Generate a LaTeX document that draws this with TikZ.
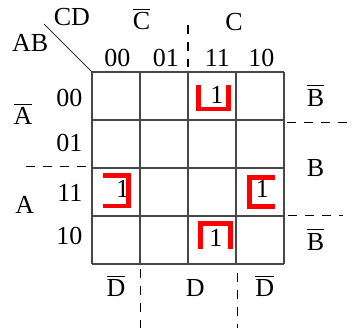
\documentclass[tikz,border=0pt]{standalone}
\usepackage{amsmath}
\usepackage{xcolor}
\usepackage{fontspec}
\setmainfont{Liberation Serif}
\usetikzlibrary{positioning}

\begin{document}
\begin{tikzpicture}[x=24pt,y=24pt,
    lbl/.style={font=\fontsize{13}{15}\selectfont, inner sep=0pt, anchor=base},
    cellline/.style={draw=black!72, line width=0.6pt},
    sepline/.style={dash pattern=on 4.5pt off 4pt, line width=0.75pt},
    grp/.style={red, line width=2.4pt}]
\useasboundingbox (-1.917,1.5) rectangle (5.417,-5.333);

% map grid
\foreach \i in {0,...,4} {
  \draw[cellline] (\i,0) -- (\i,-4);
  \draw[cellline] (0,-\i) -- (4,-\i);
}
\coordinate (corner) at (0,0);
\coordinate (diag) at (-1,1);
\draw[black!80, line width=0.5pt] (corner) -- (diag);

% variable names
\node[lbl] (cd) at (-0.42,0.96) {CD};
\node[lbl] (ab) at (-1.29,0.42) {AB};

% column labels
\node[lbl] (cbar) at (1.03,0.875) {$\overline{\text{C}}$};
\node[lbl] (c) at (2.96,0.86) {C};
\node[lbl] (col00) at (0.53,0.11) {00};
\node[lbl] (col01) at (1.54,0.11) {01};
\node[lbl] (col11) at (2.61,0.11) {11};
\node[lbl] (col10) at (3.53,0.11) {10};
\draw[sepline] (2,0.98) -- (2,0.11);

% row labels
\node[lbl, anchor=base east] (row00) at (-0.19,-0.72) {00};
\node[lbl, anchor=base east] (row01) at (-0.19,-1.66) {01};
\node[lbl, anchor=base east] (row11) at (-0.19,-2.70) {11};
\node[lbl, anchor=base east] (row10) at (-0.19,-3.60) {10};
\node[lbl] (abar) at (-1.44,-1.10) {$\overline{\text{A}}$};
\node[lbl] (a) at (-1.40,-2.94) {A};
\draw[sepline] (-1.375,-1.97) -- (-0.1,-1.97);

% B on the right
\node[lbl] (bbartop) at (4.66,-0.71) {$\overline{\text{B}}$};
\node[lbl] (b) at (4.66,-2.17) {B};
\node[lbl] (bbarbot) at (4.66,-3.71) {$\overline{\text{B}}$};
\draw[sepline] (4.06,-1.05) -- (5.417,-1.05);
\draw[sepline] (4.08,-2.99) -- (5.23,-2.99);

% D below
\node[lbl] (dbarleft) at (0.5,-4.68) {$\overline{\text{D}}$};
\node[lbl] (d) at (2.15,-4.68) {D};
\node[lbl] (dbarright) at (3.6,-4.68) {$\overline{\text{D}}$};
\draw[sepline] (1.01,-4.1) -- (1.01,-5.333);
\draw[sepline] (3.03,-4.18) -- (3.03,-5.333);

% minterms
\node[lbl] (m3) at (2.60,-0.65) {1};
\node[lbl] (m12) at (0.64,-2.61) {1};
\node[lbl] (m14) at (3.55,-2.61) {1};
\node[lbl] (m11) at (2.58,-3.64) {1};

% groups
\draw[grp] (2.22,-0.27) -- (2.22,-0.77) -- (2.85,-0.77) -- (2.85,-0.27);
\draw[grp] (0.22,-2.15) -- (0.76,-2.15) -- (0.76,-2.79) -- (0.22,-2.79);
\draw[grp] (3.81,-2.19) -- (3.28,-2.19) -- (3.28,-2.81) -- (3.81,-2.81);
\draw[grp] (2.26,-3.69) -- (2.26,-3.16) -- (2.88,-3.16) -- (2.88,-3.69);
\end{tikzpicture}
\end{document}
